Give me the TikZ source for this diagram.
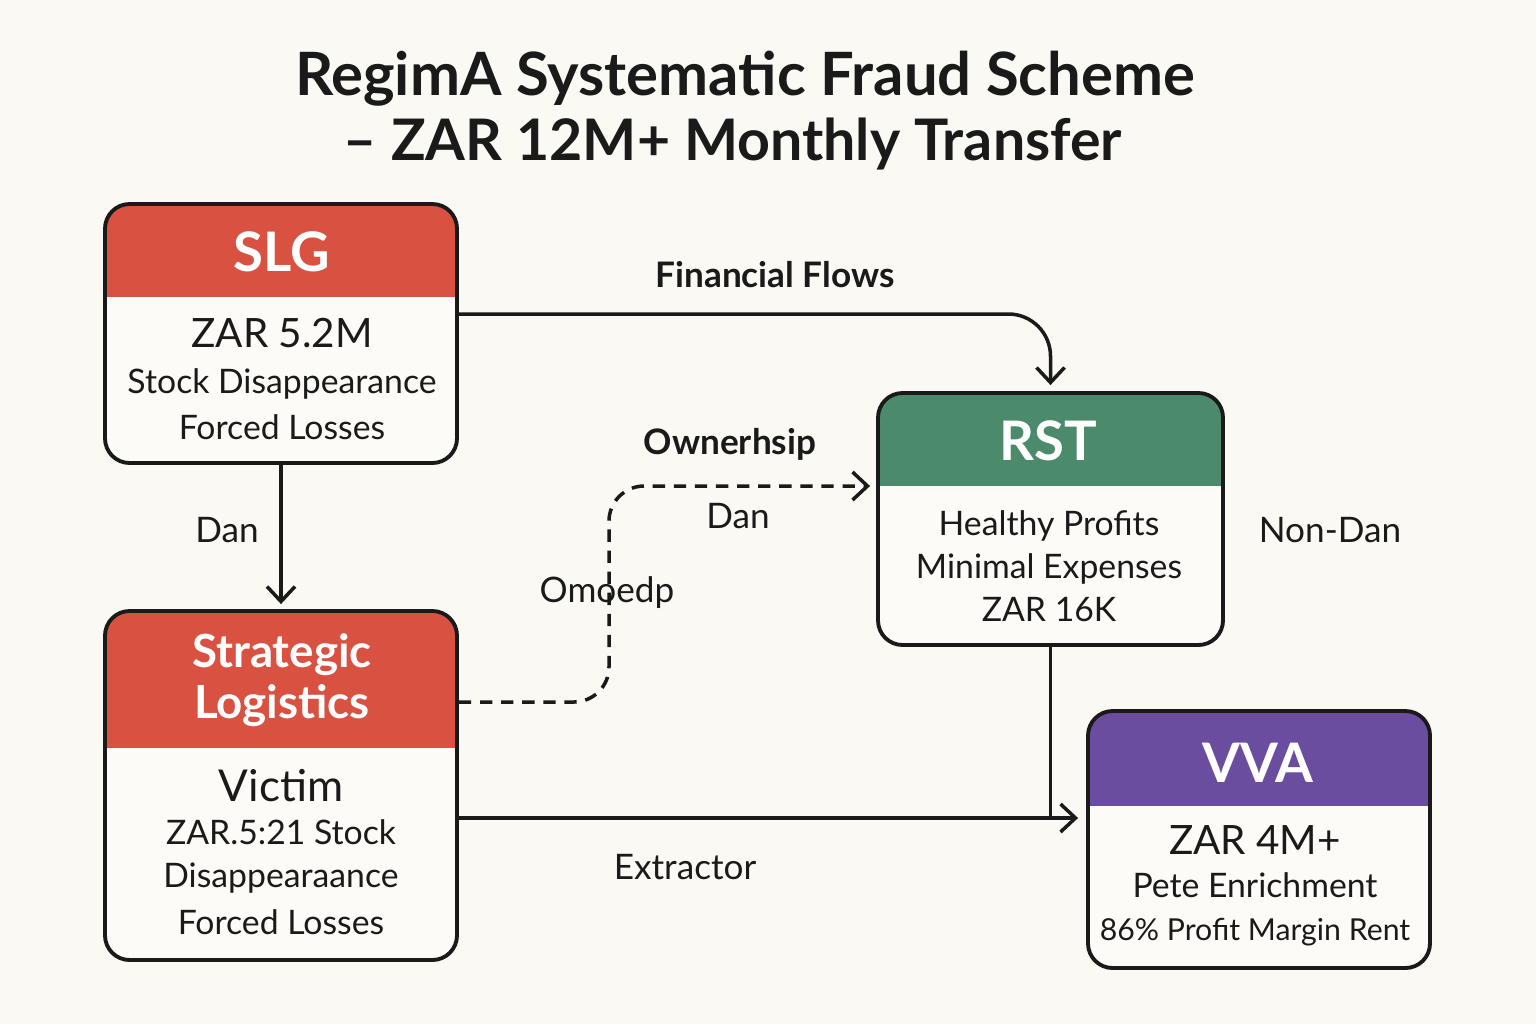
\documentclass[tikz,border=0pt]{standalone}
\usepackage{fontspec}
\setmainfont{Lato}
\usetikzlibrary{arrows.meta,positioning,calc}
\definecolor{paper}{HTML}{FBF9F4}
\definecolor{ink}{HTML}{1A1A1A}
\definecolor{slgred}{HTML}{D95141}
\definecolor{rstgreen}{HTML}{4B8A6B}
\definecolor{vvapurple}{HTML}{6A4D9E}

\begin{document}
\begin{tikzpicture}[
  card/.style={draw=ink,line width=1.1pt,rounded corners=7pt,fill=white!40!paper},
  head/.style 2 args={path picture={\fill[#1,sharp corners] (path picture bounding box.north west) rectangle ([yshift=-#2]path picture bounding box.north east);}},
  headtxt/.style={text=white,font=\bfseries\fontsize{15.5}{18}\selectfont},
  bodytxt/.style={align=center,text=ink,font=\fontsize{9.6}{12.2}\selectfont},
  lbl/.style={text=ink,font=\fontsize{10}{12}\selectfont},
  titletxt/.style={text=ink,font=\bfseries\fontsize{17}{20}\selectfont},
  arr/.style={-{Straight Barb[length=1.5mm,width=2.8mm]},line width=1pt,draw=ink}
]
\fill[paper] (0,0) rectangle (15.36,-10.24);
\useasboundingbox (0,0) rectangle (15.36,-10.24);

% title
\node[titletxt] (title) at (7.45,-0.79) {RegimA Systematic Fraud Scheme};
\node[titletxt,font=\bfseries\fontsize{16.3}{20}\selectfont] (subtitle) at (7.33,-1.44) {-- ZAR 12M+ Monthly Transfer};

% entities
\node[card,head={slgred}{0.93cm},minimum width=3.52cm,minimum height=2.59cm] (slg) at (2.81,-3.335) {};
\node[card,head={slgred}{1.37cm},minimum width=3.52cm,minimum height=3.49cm] (sl) at (2.81,-7.855) {};
\node[card,head={rstgreen}{0.93cm},minimum width=3.45cm,minimum height=2.52cm] (rst) at (10.505,-5.19) {};
\node[card,head={vvapurple}{0.95cm},minimum width=3.42cm,minimum height=2.57cm] (vva) at (12.59,-8.395) {};

\node[headtxt] (slgT) at (2.82,-2.52) {SLG};
\node[bodytxt] (slgB) at (2.82,-3.79) {{\fontsize{11.5}{14}\selectfont ZAR 5.2M}\\[1pt] Stock Disappearance\\[1pt] Forced Losses};

\node[headtxt,align=center,font=\bfseries\fontsize{13}{14.5}\selectfont] (slT) at (2.82,-6.80) {Strategic\\ Logistics};
\node[bodytxt] (slB) at (2.81,-8.52) {{\fontsize{12.5}{15}\selectfont Victim}\\ ZAR.5:21 Stock\\ Disappearaance\\[1pt] Forced Losses};

\node[headtxt] (rstT) at (10.48,-4.41) {RST};
\node[bodytxt] (rstB) at (10.49,-5.66) {Healthy Profits\\ Minimal Expenses\\ ZAR 16K};

\node[headtxt] (vvaT) at (12.58,-7.63) {VVA};
\node[bodytxt] (vvaB) at (12.55,-8.86) {{\fontsize{11.5}{14}\selectfont ZAR 4M+}\\ Pete Enrichment\\ {\fontsize{8.6}{11}\selectfont 86\% Profit Margin Rent}};

% connectors
\coordinate (own) at (6.09,-4.86);
\coordinate (join) at (10.505,-8.18);
\draw[arr] (slg.south) -- ([yshift=0.05cm]sl.north);
\draw[arr,rounded corners=12pt] ([yshift=0.195cm]slg.east) -| ([yshift=0.06cm]rst.north);
\draw[arr,dash pattern=on 3.5pt off 2.5pt,rounded corners=10pt] ([yshift=0.835cm]sl.east) -| (own) -- ([xshift=-0.06cm]rst.west |- own);
\draw[arr] (sl.east |- join) -- ([xshift=-0.08cm]vva.west |- join);
\draw[line width=1pt,draw=ink] (rst.south) -- (join);

% labels
\node[lbl,font=\bfseries\fontsize{10}{12}\selectfont] (finL) at (7.75,-2.75) {Financial Flows};
\node[lbl,font=\bfseries\fontsize{10}{12}\selectfont] (ownL) at (7.30,-4.44) {Ownerhsip};
\node[lbl] (danR) at (7.38,-5.16) {Dan};
\node[lbl] (omoL) at (6.07,-5.93) {Omoedp};
\node[lbl] (danL) at (2.27,-5.30) {Dan};
\node[lbl] (extL) at (6.85,-8.67) {Extractor};
\node[lbl] (nonL) at (13.30,-5.30) {Non-Dan};
\end{tikzpicture}
\end{document}
